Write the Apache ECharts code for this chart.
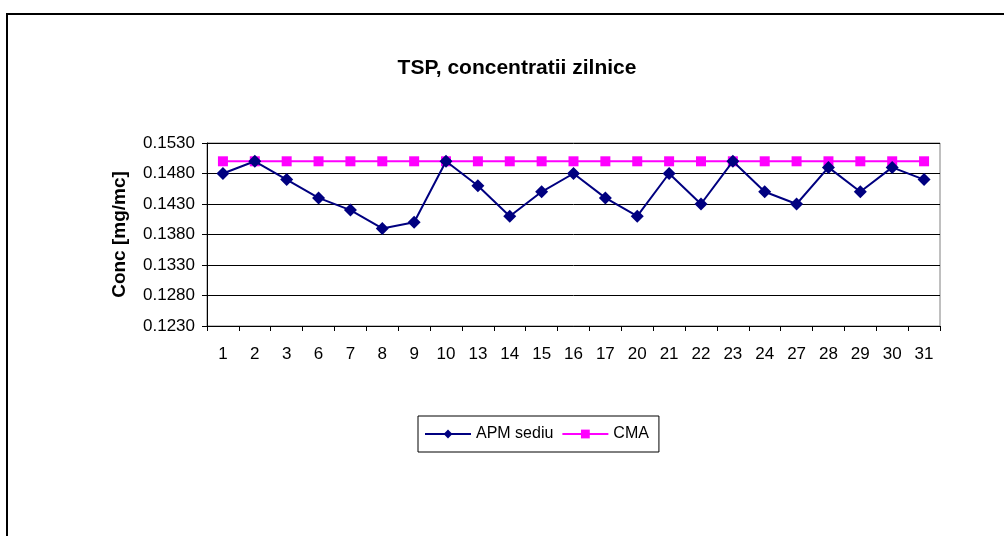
<!DOCTYPE html>
<html>
<head>
<meta charset="utf-8">
<script src="https://cdn.jsdelivr.net/npm/echarts@6/dist/echarts.min.js"></script>
<style>
  html, body { margin: 0; padding: 0; background: #fff; }
  #chart { width: 1004px; height: 536px; }
</style>
</head>
<body>
<div id="chart"></div>
<script>
// zilele masurate
const days = ['1', '2', '3', '6', '7', '8', '9', '10', '13', '14', '15', '16',
  '17', '20', '21', '22', '23', '24', '27', '28', '29', '30', '31']

// concentratii APM sediu (mg/mc)
const apmSediu = [0.148, 0.150, 0.147, 0.144, 0.142, 0.139, 0.140, 0.150, 0.146, 0.141, 0.145, 0.148,
  0.144, 0.141, 0.148, 0.143, 0.150, 0.145, 0.143, 0.149, 0.145, 0.149, 0.147]

// CMA - valoare limita
const cma = days.map(() => 0.150)

const font = 'Liberation Sans, Arial, sans-serif'

const chart = echarts.init(document.getElementById('chart'), null, { renderer: 'canvas' })

const option = {
  backgroundColor: '#fff',
  animation: false,
  graphic: [
    {
      type: 'rect',
      shape: { x: 7, y: 14, width: 1100, height: 600 },
      style: { fill: 'none', stroke: '#000', lineWidth: 2 },
      silent: true
    }
  ],
  title: {
    text: 'TSP, concentratii zilnice',
    left: 512,
    top: 53,
    textAlign: 'center',
    textStyle: { fontFamily: font, fontSize: 21, fontWeight: 'bold', color: '#000' }
  },
  legend: {
    left: 418,
    top: 416,
    padding: [10, 10, 10, 6],
    borderColor: '#000',
    borderWidth: 1,
    borderRadius: 0,
    itemWidth: 46,
    itemHeight: 11,
    itemGap: 8,
    textStyle: { fontFamily: font, fontSize: 16, color: '#000' },
    data: ['APM sediu', 'CMA']
  },
  grid: {
    left: 207,
    right: 64,
    top: 143,
    bottom: 210,
    show: true,
    borderColor: '#808080',
    borderWidth: 1
  },
  xAxis: {
    type: 'category',
    data: days,
    boundaryGap: true,
    axisLine: { lineStyle: { color: '#000' } },
    axisTick: { show: true, alignWithLabel: false, length: 5, lineStyle: { color: '#000' } },
    axisLabel: { fontFamily: font, fontSize: 17, color: '#000', margin: 20 }
  },
  yAxis: {
    type: 'value',
    min: 0.123,
    max: 0.153,
    interval: 0.005,
    name: 'Conc [mg/mc]',
    nameLocation: 'middle',
    nameGap: 78,
    nameRotate: 90,
    nameTextStyle: { fontFamily: font, fontSize: 19, fontWeight: 'bold', color: '#000' },
    axisLine: { show: true, lineStyle: { color: '#000' } },
    axisTick: { show: true, length: 5, lineStyle: { color: '#000' } },
    axisLabel: {
      fontFamily: font,
      fontSize: 17,
      color: '#000',
      margin: 12,
      formatter: v => v.toFixed(4)
    },
    splitLine: { show: true, lineStyle: { color: '#000', width: 1 } }
  },
  series: [
    {
      name: 'APM sediu',
      type: 'line',
      data: apmSediu,
      symbol: 'diamond',
      symbolSize: 13,
      itemStyle: { color: '#000080' },
      lineStyle: { color: '#000080', width: 2 },
      z: 3
    },
    {
      name: 'CMA',
      type: 'line',
      data: cma,
      symbol: 'rect',
      symbolSize: 10,
      itemStyle: { color: '#ff00ff' },
      lineStyle: { color: '#ff00ff', width: 2 },
      z: 2
    }
  ]
}

chart.setOption(option)
</script>
</body>
</html>
